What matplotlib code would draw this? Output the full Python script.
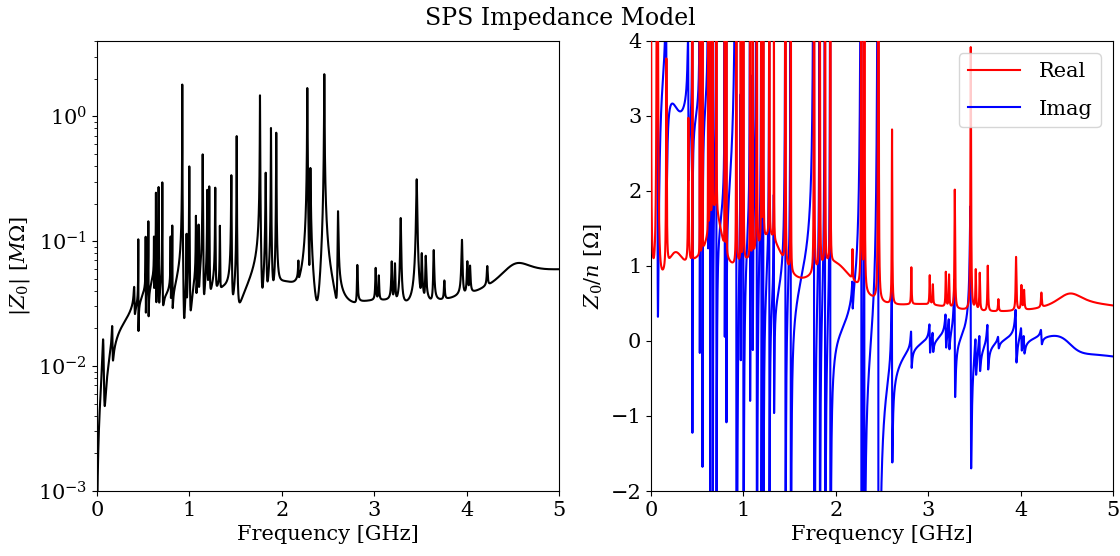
import numpy as np
import matplotlib.pyplot as plt

# SPS longitudinal impedance model, built as a sum of resonators
f_rev = 43.35e3  # revolution frequency [Hz]

nb_freq = [0.068, 0.166, 0.404, 0.447, 0.527, 0.556, 0.617, 0.638, 0.667, 0.707, 0.797, 0.815,
           0.923, 0.970, 0.999, 1.071, 1.100, 1.144, 1.194, 1.215, 1.280, 1.330, 1.454, 1.512,
           1.764, 1.826, 1.883, 1.940, 2.180, 2.276, 2.309, 2.460, 2.608, 2.817, 3.016, 3.050,
           3.190, 3.225, 3.287, 3.460, 3.514, 3.557, 3.644, 3.759, 3.950, 4.008, 4.037, 4.224]
nb_R = [0.013, 0.0107, 0.018, 0.085, 0.082, 0.12, 0.068, 0.213, 0.24, 0.265, 0.075, 0.105,
        1.77, 0.082, 0.37, 0.123, 0.095, 0.46, 0.215, 0.235, 0.225, 0.09, 0.30, 0.66,
        1.43, 0.31, 0.76, 0.69, 0.02, 1.64, 0.34, 2.14, 0.14, 0.032, 0.027, 0.019,
        0.034, 0.032, 0.12, 0.28, 0.043, 0.041, 0.051, 0.014, 0.065, 0.03, 0.024, 0.019]
# the strongest modes are narrower
nb_Q = [5, 20, 50] + [800 if r > 0.5 else 400 for r in nb_R[3:]]

# broad-band resonators: frequency [GHz], shunt impedance [Ohm], Q
bb_freq = [0.3, 0.3, 0.5, 0.7, 1.0, 1.3, 2.0, 3.0, 3.5, 4.0, 5.0, 6.0, 4.5, 4.55]
bb_R = [730, 3949, 3263, 19401, 6721, 28889, 35352, 14865, 2666, 8450, 30804, 15798, 6867, 16284]
bb_Q = [0.7, 1.0, 2.0, 3.0, 3.0, 3.0, 3.0, 3.0, 3.0, 3.0, 3.0, 3.0, 12, 12]

# smooth terms in Z/n [Ohm]: resistive wall, inductive, capacitive
rw_coef = 0.137
ind_coef = 0.40
cap_coef = 0.08


def resonator(f, fr, R, Q):
    return R / (1 + 1j * Q * (f / fr - fr / f))


freq = np.linspace(0.001, 5, 40000)  # GHz
n = freq * 1e9 / f_rev

Z = np.zeros_like(freq, dtype=complex)  # Ohm
for fr, R, Q in zip(nb_freq, nb_R, nb_Q):
    Z += resonator(freq, fr, R * 1e6, Q)
for fr, R, Q in zip(bb_freq, bb_R, bb_Q):
    Z += resonator(freq, fr, R, Q)
Z += n * (rw_coef * (1 + 1j) / np.sqrt(freq) + 1j * ind_coef - 1j * cap_coef * freq)

plt.rcParams['font.family'] = 'DejaVu Serif'
plt.rcParams['mathtext.fontset'] = 'dejavuserif'

fig = plt.figure(figsize=(11.2, 5.56), dpi=100)
ax1 = fig.add_axes([0.0866, 0.1169, 0.4125, 0.8094])
ax2 = fig.add_axes([0.5813, 0.1169, 0.4125, 0.8094])

# |Z0| on log scale
ax1.semilogy(freq, np.abs(Z) / 1e6, color='black', lw=1.5)
ax1.set_xlim(0, 5)
ax1.set_ylim(1e-3, 4)
ax1.set_ylabel(r"$|Z_0|$ $[M\Omega]$", fontsize=15)

# Z0/n real and imaginary parts (real drawn on top)
ax2.plot(freq, Z.real / n, color='red', lw=1.5, label='Real', zorder=3)
ax2.plot(freq, Z.imag / n, color='blue', lw=1.5, label='Imag', zorder=2)
ax2.set_xlim(0, 5)
ax2.set_ylim(-2, 4)
ax2.set_ylabel(r"$Z_0/n$ $[\Omega]$", fontsize=15)
ax2.legend(loc='upper right', fontsize=15, labelspacing=0.9, handlelength=2.5,
           handletextpad=0.9, borderaxespad=0.6)

for ax in (ax1, ax2):
    ax.set_xlabel("Frequency [GHz]", fontsize=15)
    ax.set_xticks([0, 1, 2, 3, 4, 5])
    ax.tick_params(labelsize=15)

fig.text(0.5, 0.967, "SPS Impedance Model", ha='center', va='center', fontsize=17)
fig.savefig('out.png')
